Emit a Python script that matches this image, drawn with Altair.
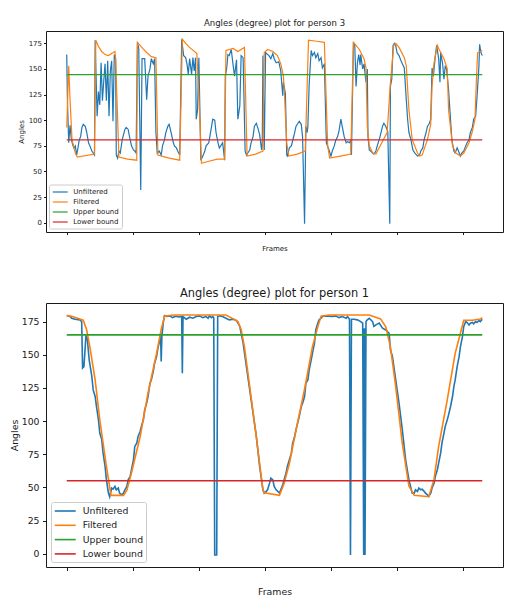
import altair as alt
import pandas as pd

SERIES = ["Unfiltered", "Filtered", "Upper bound", "Lower bound"]
COLORS = ["#1f77b4", "#ff7f0e", "#2ca02c", "#d62728"]
X_TICKS = [0, 100, 200, 300, 400, 500, 600]
Y_TICKS = [0, 25, 50, 75, 100, 125, 150, 175]
FRAME_SPAN = [0, 629]

# ---------------- person 3 (top) ----------------
p3_unfiltered = [
    (0, 164), (1, 120), (3, 78), (5, 95), (7, 81), (9, 76), (11, 73), (13, 75), (15, 66), (17, 73),
    (19, 81), (21, 84), (23, 93), (25, 96), (28, 94), (30, 89), (33, 78), (35, 75), (38, 70), (40, 68),
    (42, 66), (43, 178), (45, 128), (46, 104), (48, 128), (50, 115), (52, 156), (54, 119), (56, 138),
    (58, 155), (60, 119), (62, 158), (64, 104), (66, 148), (68, 158), (70, 99), (72, 164), (74, 160),
    (75, 66), (77, 63), (79, 70), (81, 68), (84, 81), (88, 91), (90, 93), (93, 91), (95, 84), (98, 75),
    (101, 71), (103, 70), (105, 68), (107, 176), (109, 170), (112, 32), (114, 160), (118, 160),
    (121, 120), (123, 143), (126, 150), (128, 160), (131, 155), (133, 160), (135, 88), (137, 68),
    (140, 70), (143, 66), (145, 75), (148, 81), (150, 88), (153, 94), (155, 96), (158, 88), (161, 79),
    (163, 75), (166, 73), (168, 70), (171, 66), (174, 179), (177, 163), (180, 161), (182, 155),
    (184, 145), (186, 160), (189, 145), (191, 161), (193, 148), (195, 161), (196, 101), (198, 110),
    (200, 161), (203, 61), (206, 65), (209, 70), (211, 75), (215, 78), (219, 93), (221, 101),
    (224, 100), (226, 88), (229, 78), (231, 73), (234, 76), (236, 78), (239, 61), (240, 143),
    (242, 150), (244, 164), (246, 163), (249, 169), (252, 153), (254, 143), (257, 159), (259, 101),
    (262, 114), (264, 163), (267, 161), (270, 70), (272, 66), (274, 68), (277, 71), (279, 78),
    (282, 84), (284, 94), (287, 97), (289, 93), (292, 86), (295, 71), (296, 78), (297, 163), (299, 71),
    (301, 166), (306, 163), (309, 160), (312, 165), (314, 160), (317, 156), (321, 157), (324, 148),
    (327, 124), (328, 137), (331, 126), (333, 66), (334, 65), (337, 73), (340, 75), (342, 80),
    (345, 88), (347, 94), (350, 97), (352, 99), (355, 96), (357, 84), (360, -1), (362, 94), (364, 88),
    (365, 94), (367, 135), (370, 168), (372, 163), (375, 166), (377, 161), (380, 165), (382, 158),
    (385, 161), (387, 151), (390, 155), (393, 78), (397, 71), (400, 65), (402, 70), (405, 75),
    (407, 80), (410, 84), (412, 89), (415, 101), (417, 94), (420, 84), (423, 78), (425, 79), (428, 78),
    (430, 81), (431, 66), (434, 176), (436, 173), (438, 133), (440, 156), (442, 164), (444, 154),
    (445, 164), (448, 150), (450, 155), (453, 137), (455, 150), (456, 84), (458, 71), (460, 70),
    (463, 68), (465, 67), (468, 70), (470, 75), (473, 81), (475, 86), (478, 94), (480, 97), (483, 94),
    (486, 89), (489, -1), (490, 133), (492, 140), (494, 173), (496, 175), (498, 173), (500, 166),
    (503, 163), (506, 158), (508, 155), (511, 151), (514, 120), (516, 101), (518, 88), (521, 81),
    (524, 71), (527, 68), (531, 65), (534, 66), (536, 70), (539, 73), (541, 81), (544, 88), (546, 94),
    (549, 97), (551, 101), (553, 151), (555, 143), (558, 163), (560, 173), (563, 160), (565, 137),
    (566, 166), (569, 155), (571, 140), (573, 153), (575, 150), (578, 130), (580, 110), (583, 81),
    (586, 70), (588, 68), (591, 73), (593, 70), (596, 65), (598, 68), (601, 70), (604, 75), (606, 78),
    (609, 81), (611, 88), (614, 93), (616, 101), (619, 104), (621, 122), (624, 153), (625, 174),
    (627, 166), (629, 163),
]
p3_filtered = [
    (0, 93), (3, 153), (5, 120), (8, 81), (13, 68), (16, 64), (42, 67), (44, 178), (48, 172), (53, 167),
    (58, 164), (63, 163), (68, 165), (73, 167), (74, 160), (79, 64), (92, 62), (106, 61), (107, 176),
    (115, 170), (121, 166), (128, 162), (135, 161), (138, 66), (155, 63), (171, 61), (175, 179),
    (180, 175), (186, 171), (197, 165), (201, 110), (204, 58), (215, 60), (228, 62), (239, 62),
    (241, 168), (252, 170), (259, 167), (269, 171), (273, 65), (286, 67), (297, 70), (299, 166),
    (304, 169), (312, 167), (319, 163), (324, 155), (328, 143), (330, 120), (333, 78), (336, 65),
    (349, 67), (361, 70), (366, 178), (378, 177), (390, 176), (395, 75), (398, 63), (414, 65),
    (430, 67), (434, 176), (443, 169), (450, 160), (453, 151), (455, 94), (458, 75), (463, 68),
    (468, 67), (485, 88), (490, 137), (495, 173), (498, 175), (503, 171), (511, 161), (514, 153),
    (518, 110), (523, 81), (531, 68), (534, 65), (538, 66), (546, 81), (551, 96), (553, 133),
    (556, 156), (561, 173), (563, 170), (571, 160), (576, 150), (578, 110), (584, 75), (589, 68),
    (596, 65), (601, 68), (609, 78), (614, 89), (618, 101), (620, 137), (622, 166), (629, 168),
]
p3_upper, p3_lower = 144.5, 80.8

# ---------------- person 1 (bottom) ----------------
p1_unfiltered = [
    (0, 179.5), (5, 178.8), (7.5, 177.5), (12.6, 176.8), (20, 176.3), (22.6, 175), (24, 140), (26, 141),
    (29, 164), (31, 162.5), (34, 146), (38, 133.6), (40, 123.5), (43, 118.5), (45, 111), (48, 101),
    (50, 91), (53, 86), (55, 76), (58, 66), (60, 56), (63, 46), (65, 43), (68, 49.5), (70, 48.7),
    (73, 50.7), (75, 48.2), (78, 49.5), (80, 45.7), (83, 44.4), (86, 45.7), (88, 48.2), (91, 50.7),
    (93, 55.7), (96, 58.3), (98, 63.3), (101, 70.8), (103, 80.9), (106, 83.4), (108, 88.4), (111, 92),
    (113, 96), (116, 101), (118, 108.5), (121, 113.5), (123, 118.5), (126, 128.6), (128, 131),
    (131, 137.4), (133, 143.6), (136, 148.7), (138, 155), (141, 161.2), (142, 166), (143, 145),
    (144, 163.7), (146, 173.8), (148, 179.5), (151, 178.8), (156, 179.3), (160, 178), (165, 179),
    (170, 178.5), (174, 178.8), (175, 136), (176, 178.8), (181, 176.8), (186, 178.3), (191, 177.5),
    (196, 178.8), (201, 179.3), (206, 178), (211, 178.8), (214, 177.5), (216, 179.3), (219, 178),
    (221, 178.8), (222.5, 178), (224, -1), (227, -1), (228.5, 178.8), (231, 179.3), (236, 178.8),
    (241, 177.5), (246, 176.3), (252, 176.8), (257, 175.8), (262, 171.3), (267, 158.7), (272, 141),
    (277, 123.5), (282, 106), (287, 88.4), (292, 65.8), (297, 48.2), (299, 45.7), (302, 47), (304, 48.2),
    (307, 53.2), (309, 57), (312, 55.7), (314, 50.7), (317, 48.2), (322, 45.7), (324, 48.2), (327, 52),
    (329, 55.7), (332, 60.8), (334, 65.8), (337, 70.8), (340, 75.8), (342, 83.4), (345, 88.4),
    (347, 93.4), (352, 103.5), (355, 111), (357, 113.5), (360, 118.5), (362, 128.6), (365, 131),
    (367, 138.6), (370, 146), (372, 151.2), (375, 158.7), (377, 168.7), (380, 173.8), (382, 176.3),
    (385, 177.5), (387, 178.8), (392, 179.3), (402, 178.8), (407, 179.3), (412, 178), (417, 178.8),
    (423, 177.5), (425, 178.8), (428, 176.8), (429.5, -1), (431, 176.8), (435, 176.8), (440, 176.3),
    (445, 175), (448, 173.8), (449.5, -1), (450.5, 170), (451.5, -1), (453, 175), (455, 176.3),
    (458, 177.5), (463, 175), (465, 171.3), (468, 172.5), (473, 173.8), (478, 170), (483, 168.7),
    (488, 166.2), (490, 153.7), (493, 148.7), (498, 131), (503, 113.5), (508, 93.4), (513, 70.8),
    (518, 55.7), (523, 45.7), (526, 45.7), (528, 48.2), (531, 47), (533, 49.5), (536, 48.2), (538, 48.7),
    (541, 47), (543, 45.7), (546, 44.4), (548, 43.2), (551, 45.7), (553, 49.5), (556, 53.2), (558, 58.3),
    (561, 63.3), (563, 68.3), (566, 75.8), (568, 83.4), (571, 90.9), (573, 96), (576, 101), (578, 104.7),
    (581, 111), (584, 118.5), (586, 126), (588, 131), (591, 141), (594, 148.7), (596, 156.2),
    (599, 163.7), (601, 171.3), (604, 175), (606, 174.3), (609, 172.5), (611, 173.8), (614, 174.3),
    (616, 173.3), (619, 175), (621, 174.3), (624, 175.8), (626, 175), (629, 176.8),
]
p1_filtered = [
    (0, 179.5), (7.5, 179), (25, 176), (30, 169), (35, 156), (43, 131), (50, 101), (60, 66), (67, 44),
    (86, 44), (91, 48), (98, 61), (111, 88), (123, 121), (136, 151), (143, 169), (148, 179), (161, 180),
    (241, 180), (252, 177), (259, 175), (264, 169), (269, 156), (277, 126), (287, 88), (297, 48),
    (299, 46), (322, 44), (329, 53), (337, 68), (347, 93), (360, 124), (372, 156), (380, 171), (385, 179),
    (397, 180), (458, 180), (475, 177), (483, 171), (490, 156), (498, 126), (508, 83), (518, 51),
    (526, 44), (548, 43), (556, 56), (563, 81), (576, 116), (588, 151), (601, 176), (614, 176),
    (626, 177), (629, 178),
]
p1_upper, p1_lower = 165, 55

LEGEND_LINE = "M-2,0H2"


def frame_of(pairs, name):
    df = pd.DataFrame(pairs, columns=["frame", "value"])
    df["series"] = name
    return df


def panel(title, unf, filt, ub, lb, ydom, st):
    cscale = alt.Scale(domain=SERIES, range=COLORS)
    legend = alt.Legend(
        title=None, orient="none", legendX=st["lx"], legendY=st["ly"],
        symbolType=LEGEND_LINE, symbolSize=st["sym"], symbolStrokeWidth=st["lw"],
        symbolOffset=st["soff"],
        labelFontSize=st["fs"], labelFont="DejaVu Sans", labelColor="#1a1a1a",
        labelOffset=st["loff"], rowPadding=st["rp"], padding=st["pad"],
        strokeColor="#cccccc", fillColor="#ffffff", cornerRadius=2,
    )
    xax = alt.Axis(values=X_TICKS, labels=False, grid=False, domain=False,
                   tickSize=st["tick"], tickColor="#1a1a1a", title="Frames",
                   titleFont="DejaVu Sans", titleFontSize=st["afs"], titleFontWeight="normal",
                   titleColor="#1a1a1a", titlePadding=st["xtp"])
    yax = alt.Axis(values=Y_TICKS, grid=False, domain=False, tickSize=st["tick"],
                   tickColor="#1a1a1a", labelFont="DejaVu Sans", labelFontSize=st["lfs"],
                   labelColor="#1a1a1a", labelPadding=st["lp"], title="Angles",
                   titleFont="DejaVu Sans", titleFontSize=st["afs"], titleFontWeight="normal",
                   titleColor="#1a1a1a", titlePadding=st["ytp"])
    x = alt.X("frame:Q", scale=alt.Scale(domain=[-31.4, 660.4], nice=False, zero=False), axis=xax)
    y = alt.Y("value:Q", scale=alt.Scale(domain=ydom, nice=False, zero=False), axis=yax)
    col = alt.Color("series:N", scale=cscale, legend=legend)

    d_unf = frame_of(unf, "Unfiltered")
    d_filt = frame_of(filt, "Filtered")
    d_up = frame_of([(FRAME_SPAN[0], ub), (FRAME_SPAN[1], ub)], "Upper bound")
    d_lo = frame_of([(FRAME_SPAN[0], lb), (FRAME_SPAN[1], lb)], "Lower bound")

    layers = [
        alt.Chart(d).mark_line(strokeWidth=st["lw"], clip=True).encode(x=x, y=y, color=col)
        for d in (d_unf, d_filt, d_up, d_lo)
    ]
    return alt.layer(*layers).properties(
        width=457, height=st["h"],
        title=alt.TitleParams(title, font="DejaVu Sans", fontSize=st["tfs"], fontWeight="normal",
                              color="#1a1a1a", anchor="middle", offset=st["toff"]),
    )


top_style = dict(h=201, lw=1.2, sym=56, soff=3.75, fs=7, loff=8.5, rp=2, pad=3, lx=3, ly=153.5,
                 tick=2.5, afs=7, lfs=7, lp=2, xtp=9, ytp=4, tfs=8.5, toff=4)
bot_style = dict(h=264, lw=1.6, sym=110, soff=5.25, fs=9.3, loff=11, rp=2.3, pad=2.5, lx=5, ly=199,
                 tick=3.5, afs=9.4, lfs=9.3, lp=3.5, xtp=16, ytp=2, tfs=11.4, toff=4)

top = panel("Angles (degree) plot for person 3", p3_unfiltered, p3_filtered,
            p3_upper, p3_lower, [-9, 187], top_style)
bottom = panel("Angles (degree) plot for person 1", p1_unfiltered, p1_filtered,
               p1_upper, p1_lower, [-10, 189], bot_style)

chart = (
    alt.vconcat(top, bottom, spacing=35)
    .resolve_scale(color="independent")
    .properties(padding={"left": 0, "top": 10, "right": 0, "bottom": 0})
    .configure(font="DejaVu Sans")
    .configure_view(stroke="#1a1a1a", strokeWidth=1)
)

chart.save("out.html", embed_options={"renderer": "svg", "actions": False})
